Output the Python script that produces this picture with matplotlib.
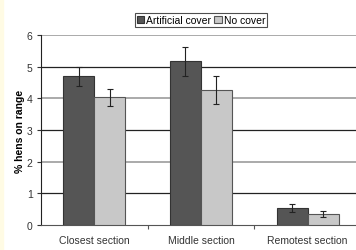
import numpy as np
import matplotlib.pyplot as plt
from matplotlib.patches import Rectangle

plt.rcParams["font.family"] = ["Liberation Sans", "DejaVu Sans"]

sections = ["Closest section", "Middle section", "Remotest section"]
artificial = [4.70, 5.17, 0.53]
artificial_err = [0.30, 0.45, 0.13]
no_cover = [4.04, 4.26, 0.34]
no_cover_err = [0.27, 0.45, 0.10]

fig = plt.figure(figsize=(3.56, 2.51), dpi=100)
fig.patches.append(Rectangle((0, 0), 0.009, 1, transform=fig.transFigure,
                             color="#fffbe4", zorder=-1))
ax = fig.add_axes([0.115, 0.0996, 0.89, 0.757])

x = np.arange(len(sections))
w = 0.29
ax.bar(x - w / 2, artificial, w, color="#555555", edgecolor="#333333",
       linewidth=0.8, label="Artificial cover", zorder=3)
ax.bar(x + w / 2, no_cover, w, color="#c8c8c8", edgecolor="#555555",
       linewidth=0.8, label="No cover", zorder=3)
ax.errorbar(x - w / 2, artificial, yerr=artificial_err, fmt="none",
            ecolor="#222222", elinewidth=0.8, capsize=2, capthick=0.8, zorder=4)
ax.errorbar(x + w / 2, no_cover, yerr=no_cover_err, fmt="none",
            ecolor="#222222", elinewidth=0.8, capsize=2, capthick=0.8, zorder=4)

# alternating grid colours
for yv in range(1, 7):
    c = "#222222" if yv % 2 else "#aaaaaa"
    lw = 0.9 if yv % 2 else 1.4
    ax.axhline(yv, color=c, linewidth=lw, zorder=1)

ax.set_ylim(0, 6)
ax.set_xlim(-0.5, 2.47)
ax.set_yticks(range(7))
ax.tick_params(axis="y", labelsize=7.5, length=3, width=0.8, colors="#333333", pad=3)
ax.set_xticks([0.5, 1.5])
ax.set_xticklabels([])
ax.set_xticks(x, minor=True)
ax.set_xticklabels(sections, minor=True)
ax.tick_params(axis="x", which="major", length=3, width=0.8, color="#555555")
ax.tick_params(axis="x", which="minor", length=0, labelsize=7.5, pad=7,
               labelcolor="#333333")

ax.spines["top"].set_visible(False)
ax.spines["right"].set_visible(False)
ax.spines["left"].set_color("#222222")
ax.spines["bottom"].set_color("#555555")

ax.set_ylabel("% hens on range", fontsize=7.5, fontweight="bold", labelpad=1)

leg = ax.legend(loc="lower center", bbox_to_anchor=(0.505, 1.04), ncol=2,
                fontsize=7.5, frameon=True, fancybox=False, edgecolor="#222222",
                handlelength=0.7, handleheight=0.7, handletextpad=0.2,
                columnspacing=0.3, borderpad=0.2, borderaxespad=0)
leg.get_frame().set_linewidth(0.8)

fig.savefig("out.png", dpi=100)
